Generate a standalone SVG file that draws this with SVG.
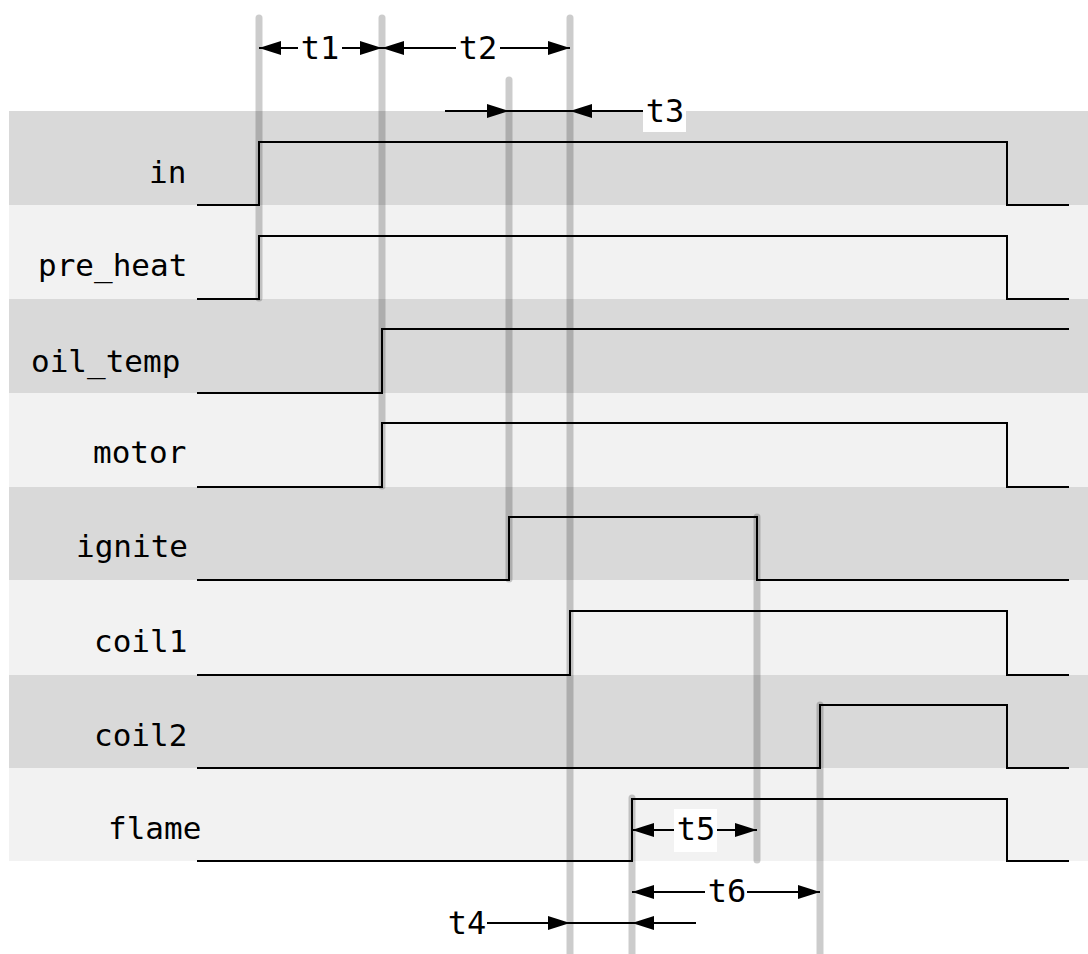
<svg xmlns="http://www.w3.org/2000/svg" width="1088" height="954" viewBox="0 0 1088 954">
<style>
.bd{fill:#d9d9d9}
.bl{fill:#f2f2f2}
.nm{font-family:"DejaVu Sans Mono","Liberation Mono",monospace;font-size:31px;fill:#000}
.sig{fill:none;stroke:#000;stroke-width:2}
.mk{stroke:#000;stroke-opacity:0.2;stroke-width:7;stroke-linecap:round;fill:none}
.ar{stroke:#000;stroke-width:2;fill:none}
.tb{fill:#fff}
.tl{font-family:"DejaVu Sans Mono","Liberation Mono",monospace;font-size:32px;fill:#000;text-anchor:middle}
</style>
<defs>
<marker id="ah" viewBox="0 0 22 14" refX="22" refY="7" markerWidth="22" markerHeight="14" markerUnits="userSpaceOnUse" orient="auto-start-reverse">
<path d="M0,0 L22,7 L0,14 z" fill="#000"/>
</marker>
</defs>
<rect width="1088" height="954" fill="#fff"/>
<g id="bands">
<rect class="bd" x="9" y="111" width="1079" height="94"/>
<rect class="bl" x="9" y="205" width="1079" height="94"/>
<rect class="bd" x="9" y="299" width="1079" height="94"/>
<rect class="bl" x="9" y="393" width="1079" height="94"/>
<rect class="bd" x="9" y="487" width="1079" height="93"/>
<rect class="bl" x="9" y="580" width="1079" height="95"/>
<rect class="bd" x="9" y="675" width="1079" height="93"/>
<rect class="bl" x="9" y="768" width="1079" height="93"/>
</g>
<g id="sig-in"><text class="nm" x="149" y="183">in</text><path class="sig" d="M197,205 H259 V142 H1007 V205 H1069"/></g>
<g id="sig-pre_heat"><text class="nm" x="38" y="276">pre_heat</text><path class="sig" d="M197,299 H259 V236 H1007 V299 H1069"/></g>
<g id="sig-oil_temp"><text class="nm" x="31" y="372">oil_temp</text><path class="sig" d="M197,393 H382 V329 H1069"/></g>
<g id="sig-motor"><text class="nm" x="93" y="463">motor</text><path class="sig" d="M197,487 H382 V423 H1007 V487 H1069"/></g>
<g id="sig-ignite"><text class="nm" x="76" y="557">ignite</text><path class="sig" d="M197,580 H509 V517 H757 V580 H1069"/></g>
<g id="sig-coil1"><text class="nm" x="94" y="652">coil1</text><path class="sig" d="M197,675 H570 V611 H1007 V675 H1069"/></g>
<g id="sig-coil2"><text class="nm" x="94" y="746">coil2</text><path class="sig" d="M197,768 H820 V705 H1007 V768 H1069"/></g>
<g id="sig-flame"><text class="nm" x="108" y="839">flame</text><path class="sig" d="M197,861 H632 V799 H1007 V861 H1069"/></g>
<g id="markers">
<line class="mk" x1="259" y1="18" x2="259" y2="298"/>
<line class="mk" x1="382" y1="18" x2="382" y2="486"/>
<line class="mk" x1="570" y1="18" x2="570" y2="960"/>
<line class="mk" x1="509" y1="80" x2="509" y2="579"/>
<line class="mk" x1="757" y1="517" x2="757" y2="860"/>
<line class="mk" x1="632" y1="798" x2="632" y2="960"/>
<line class="mk" x1="820" y1="705" x2="820" y2="960"/>
</g>
<g id="connectors">
<line class="ar" x1="259" y1="48" x2="382" y2="48" marker-start="url(#ah)" marker-end="url(#ah)"/>
<line class="ar" x1="382" y1="48" x2="570" y2="48" marker-start="url(#ah)" marker-end="url(#ah)"/>
<line class="ar" x1="445" y1="111" x2="509" y2="111" marker-end="url(#ah)"/>
<line class="ar" x1="509" y1="111" x2="570" y2="111"/>
<line class="ar" x1="645" y1="111" x2="570" y2="111" marker-end="url(#ah)"/>
<line class="ar" x1="487" y1="923" x2="570" y2="923" marker-end="url(#ah)"/>
<line class="ar" x1="570" y1="923" x2="632" y2="923"/>
<line class="ar" x1="696" y1="923" x2="632" y2="923" marker-end="url(#ah)"/>
<line class="ar" x1="632" y1="830" x2="757" y2="830" marker-start="url(#ah)" marker-end="url(#ah)"/>
<line class="ar" x1="632" y1="892" x2="820" y2="892" marker-start="url(#ah)" marker-end="url(#ah)"/>
</g>
<g id="labels">
<rect class="tb" x="298" y="34" width="44" height="35"/><text class="tl" x="320" y="59">t1</text>
<rect class="tb" x="456" y="34" width="44" height="35"/><text class="tl" x="478" y="59">t2</text>
<rect class="tb" x="643" y="97" width="43" height="35"/><text class="tl" x="665" y="122">t3</text>
<rect class="tb" x="446" y="909" width="41" height="35"/><text class="tl" x="467" y="934">t4</text>
<rect class="tb" x="674" y="809" width="43" height="43"/><text class="tl" x="696" y="840">t5</text>
<rect class="tb" x="705" y="877" width="42" height="35"/><text class="tl" x="727" y="902">t6</text>
</g>
</svg>
